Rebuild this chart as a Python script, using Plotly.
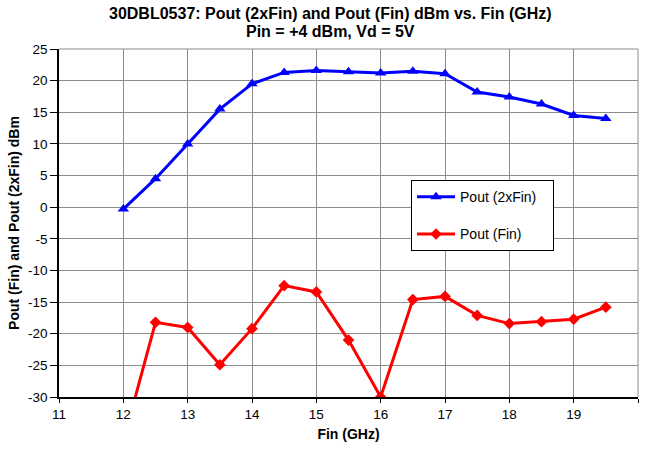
import plotly.graph_objects as go

fin = [12, 12.5, 13, 13.5, 14, 14.5, 15, 15.5, 16, 16.5, 17, 17.5, 18, 18.5, 19, 19.5]
pout_2xfin = [-0.3, 4.5, 10.0, 15.5, 19.5, 21.3, 21.6, 21.4, 21.2, 21.5, 21.1, 18.2, 17.4, 16.3, 14.5, 14.0]
pout_fin = [-37.0, -18.2, -19.0, -24.9, -19.2, -12.4, -13.4, -21.0, -30.0, -14.6, -14.1, -17.1, -18.4, -18.1, -17.7, -15.8]

x_ticks = list(range(11, 21))
y_ticks = list(range(-30, 26, 5))

title_lines = ["30DBL0537: Pout (2xFin) and Pout (Fin) dBm vs. Fin (GHz)", "Pin = +4 dBm, Vd = 5V"]

font = "Liberation Sans, Arial, sans-serif"
pad = "\u00a0\u00a0\u00a0"

fig = go.Figure()
fig.add_trace(go.Scatter(
    x=fin, y=pout_2xfin, mode="lines+markers", name="Pout (2xFin)" + pad,
    line=dict(color="#0000FF", width=3),
    marker=dict(symbol="triangle-up", size=10, color="#0000FF"),
    legendgroup="a",
))
fig.add_trace(go.Scatter(
    x=fin, y=pout_fin, mode="lines+markers", name="Pout (Fin)",
    line=dict(color="#FF0000", width=3),
    marker=dict(symbol="diamond", size=9, color="#FF0000"),
    legendgroup="b",
))

fig.update_layout(
    width=645, height=450,
    margin=dict(l=59, r=7, t=49, b=53),
    paper_bgcolor="white", plot_bgcolor="white",
    font=dict(family=font, size=13.5, color="black"),
    legend=dict(
        x=0.608, y=0.623, xanchor="left", yanchor="top",
        bgcolor="white", bordercolor="black", borderwidth=1,
        font=dict(family=font, size=14, color="black"),
        tracegroupgap=16, traceorder="grouped",
        itemwidth=38,
    ),
    xaxis=dict(
        range=[11, 20], tickvals=x_ticks, ticktext=[str(v) for v in x_ticks],
        showgrid=True, gridcolor="#8C8C8C", gridwidth=1,
        showline=True, linecolor="black", linewidth=1.5,
        ticks="outside", ticklen=4, tickcolor="black",
        zeroline=False,
        title=dict(text="<b>Fin (GHz)</b>", font=dict(family=font, size=14), standoff=8),
        tickfont=dict(family=font, size=13.5),
    ),
    yaxis=dict(
        range=[-30, 25], tickvals=y_ticks, ticktext=[str(v) for v in y_ticks],
        showgrid=True, gridcolor="#8C8C8C", gridwidth=1,
        showline=True, linecolor="black", linewidth=1.5,
        ticks="outside", ticklen=7, tickcolor="black",
        zeroline=False,
        title=dict(text="<b>Pout (Fin) and Pout (2xFin) dBm</b>", font=dict(family=font, size=14), standoff=5),
        tickfont=dict(family=font, size=13.5),
    ),
)

for i, line in enumerate(title_lines):
    fig.add_annotation(
        text="<b>" + line + "</b>", xref="paper", yref="paper",
        x=(330 - 59) / 579, y=1 + (49 - (14 + 18 * i)) / 348,
        xanchor="center", yanchor="middle", showarrow=False,
        font=dict(family=font, size=16, color="black"),
    )

fig.add_shape(type="line", xref="paper", yref="paper", x0=1, x1=1, y0=0, y1=1,
              line=dict(color="#8C8C8C", width=1))
fig.add_shape(type="line", xref="paper", yref="paper", x0=0, x1=1, y0=1, y1=1,
              line=dict(color="#8C8C8C", width=1))

fig.write_html("out.html")
